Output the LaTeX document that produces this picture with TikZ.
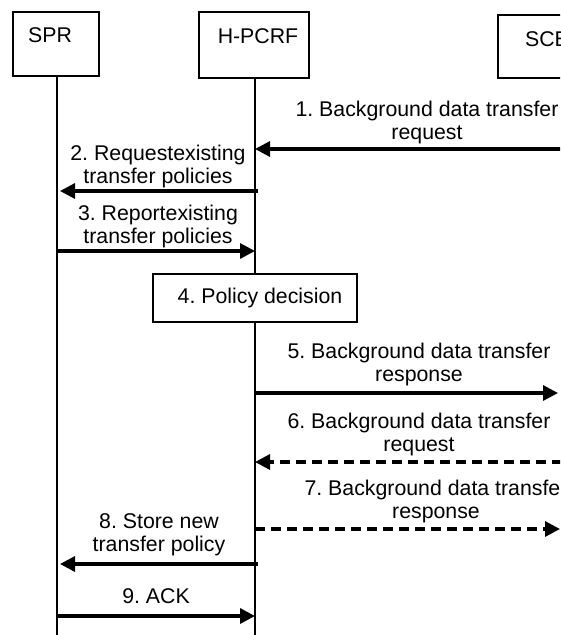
\documentclass[tikz,border=0pt]{standalone}
\usepackage{fontspec}
\setmainfont{Liberation Sans}
\usetikzlibrary{arrows.meta}
\frenchspacing
\begin{document}
\begin{tikzpicture}[x=1pt,y=-1pt,
  entity/.style={draw, line width=1.4pt, inner sep=0pt},
  lbl/.style={inner sep=0pt, font=\fontsize{21.3pt}{23pt}\selectfont, align=center},
  life/.style={line width=1.5pt},
  msg/.style={line width=3.2pt, -{Triangle[length=15pt,width=15pt]}},
  amsg/.style={msg, dash pattern=on 10pt off 6pt}]
\useasboundingbox (0,0) rectangle (560,635);
\fill[white] (0,0) rectangle (560,635);
\clip (0,0) rectangle (560,635);
\coordinate (bottom) at (0,635);
% entities
\node[entity, minimum width=86pt, minimum height=64pt] (spr) at (56,44) {};
\node[lbl] (sprl) at (50,35.5) {SPR};
\node[entity, minimum width=110pt, minimum height=66pt] (hp) at (254,45) {};
\node[lbl] (hpl) at (258,36) {H-PCRF};
\node[entity, minimum width=126pt, minimum height=63pt] (scef) at (561,46.5) {};
\node[lbl] (scefl) at (553.5,39.5) {SCEF};
% lifelines
\coordinate (lspr) at (57,0);
\coordinate (lhp) at (255,0);
\coordinate (lsc) at (562,0);
\draw[life] (lspr |- spr.south) -- (lspr |- bottom);
\draw[life] (lhp |- hp.south) -- (lhp |- bottom);
\draw[life] (lsc |- scef.south) -- (lsc |- bottom);
% 1
\node[lbl] (m1) at (427,122) {1. Background data transfer\\request};
\draw[msg] (lsc |- 0,149) -- (lhp |- 0,149);
% 2
\node[lbl] (m2) at (158,166.5) {2. Requestexisting\\transfer policies};
\draw[msg, shorten <=-2.5pt, shorten >=3pt] (lhp |- 0,191) -- (lspr |- 0,191);
% 3
\node[lbl] (m3) at (158,226) {3. Reportexisting\\transfer policies};
\draw[msg] (lspr |- 0,251) -- (lhp |- 0,251);
% 4
\node[entity, fill=white, minimum width=204pt, minimum height=48pt, lbl] (pd) at (255,298) {\hspace{10pt}4. Policy decision};
% 5
\node[lbl] (m5) at (419,364) {5. Background data transfer\\response};
\draw[msg, shorten >=4pt] (lhp |- 0,393) -- (lsc |- 0,393);
% 6
\node[lbl] (m6) at (419,434) {6. Background data transfer\\request};
\draw[amsg] (lsc |- 0,462) -- (lhp |- 0,462);
% 7
\node[lbl] (m7) at (436,501) {7. Background data transfer\\response};
\draw[amsg, shorten >=2pt] (lhp |- 0,529) -- (lsc |- 0,529);
% 8
\node[lbl] (m8) at (159,535) {8. Store new\\transfer policy};
\draw[msg, shorten <=-2.5pt, shorten >=3pt] (lhp |- 0,564) -- (lspr |- 0,564);
% 9
\node[lbl] (m9) at (156,596) {9. ACK};
\draw[msg] (lspr |- 0,616) -- (lhp |- 0,616);
\end{tikzpicture}
\end{document}
